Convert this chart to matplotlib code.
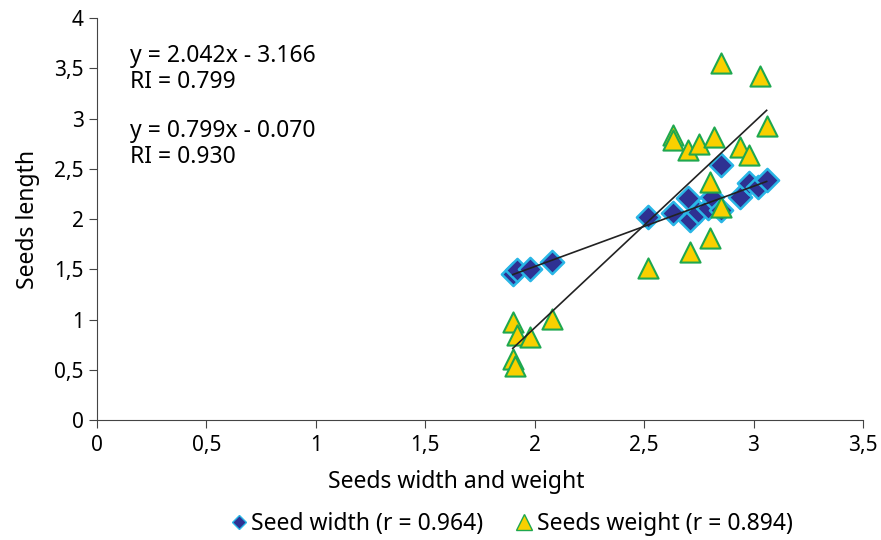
import matplotlib.pyplot as plt
import numpy as np
from matplotlib.lines import Line2D

plt.rcParams['font.family'] = ['Noto Sans', 'DejaVu Sans']

# seed width (diamonds)
width_x = [1.90, 1.92, 1.98, 2.08, 2.52, 2.63, 2.70, 2.71, 2.745, 2.79, 2.81, 2.85, 2.85, 2.94, 2.98, 3.02, 3.06]
width_y = [1.45, 1.49, 1.50, 1.57, 2.02, 2.06, 2.21, 1.99, 2.07, 2.11, 2.22, 2.54, 2.09, 2.22, 2.36, 2.32, 2.39]

# seeds weight (triangles)
weight_x = [2.85, 3.03, 3.06, 2.63, 2.63, 2.70, 2.75, 2.82, 2.94, 2.98, 2.80, 2.85,
            2.80, 2.71, 2.52, 2.08, 1.90, 1.92, 1.98, 1.90, 1.91]
weight_y = [3.55, 3.42, 2.93, 2.84, 2.79, 2.69, 2.75, 2.82, 2.72, 2.64, 2.37, 2.12,
            1.81, 1.67, 1.51, 1.01, 0.98, 0.85, 0.83, 0.61, 0.54]

# trend lines
fit_width = (0.799, -0.070)
fit_weight = (2.042, -3.166)

xticks = [0, 0.5, 1, 1.5, 2, 2.5, 3, 3.5]
yticks = [0, 0.5, 1, 1.5, 2, 2.5, 3, 3.5, 4]

fig = plt.figure(figsize=(8.81, 5.4), dpi=100)
ax = fig.add_axes([0.110, 0.222, 0.8695, 0.7444])

navy = '#2E3192'
cyan = '#29B6E6'
yellow = '#F9D000'
green = '#1FA84F'

ax.scatter(width_x, width_y, marker='D', s=140, color=navy, edgecolors=cyan, linewidths=1.8, zorder=3)
ax.scatter(weight_x, weight_y, marker='^', s=210, color=yellow, edgecolors=green, linewidths=1.5, zorder=3)

xs = np.array([min(width_x), max(width_x)])
ax.plot(xs, fit_width[0] * xs + fit_width[1], color='#222222', lw=1.2, zorder=4)
xs = np.array([min(weight_x), max(weight_x)])
ax.plot(xs, fit_weight[0] * xs + fit_weight[1], color='#222222', lw=1.2, zorder=4)

ax.set_xlim(0, 3.5)
ax.set_ylim(0, 4)
ax.set_xticks(xticks)
ax.set_yticks(yticks)
fmt = lambda v: ('%g' % v).replace('.', ',')
ax.set_xticklabels([fmt(v) for v in xticks])
ax.set_yticklabels([fmt(v) for v in yticks])
ax.tick_params(labelsize=15, length=6, direction='out', color='#444444')
ax.tick_params(axis='x', pad=5)
for s in ['top', 'right']:
    ax.spines[s].set_visible(False)
for s in ['left', 'bottom']:
    ax.spines[s].set_color('#444444')

ax.set_xlabel('Seeds width and weight', fontsize=16.5)
ax.xaxis.set_label_coords(0.469, -0.125)
ax.set_ylabel('Seeds length', fontsize=16.5, labelpad=10)

fig.text(130 / 881, 1 - 69 / 540, 'y = 2.042x - 3.166\nRI = 0.799', fontsize=16.5, va='center',
         linespacing=1.1)
fig.text(130 / 881, 1 - 144 / 540, 'y = 0.799x - 0.070\nRI = 0.930', fontsize=16.5, va='center',
         linespacing=1.1)

handles = [
    Line2D([], [], marker='D', ls='', color=navy, markeredgecolor=cyan, markersize=7),
    Line2D([], [], marker='^', ls='', color=yellow, markeredgecolor=green, markersize=11),
]
fig.legend(handles, ['Seed width (r = 0.964)', 'Seeds weight (r = 0.894)'], loc='center',
           bbox_to_anchor=(510 / 881, 1 - 524 / 540), ncol=2, frameon=False, fontsize=16.5,
           handletextpad=0.05, columnspacing=1.3, handlelength=1)

fig.savefig('out.png', dpi=100)
